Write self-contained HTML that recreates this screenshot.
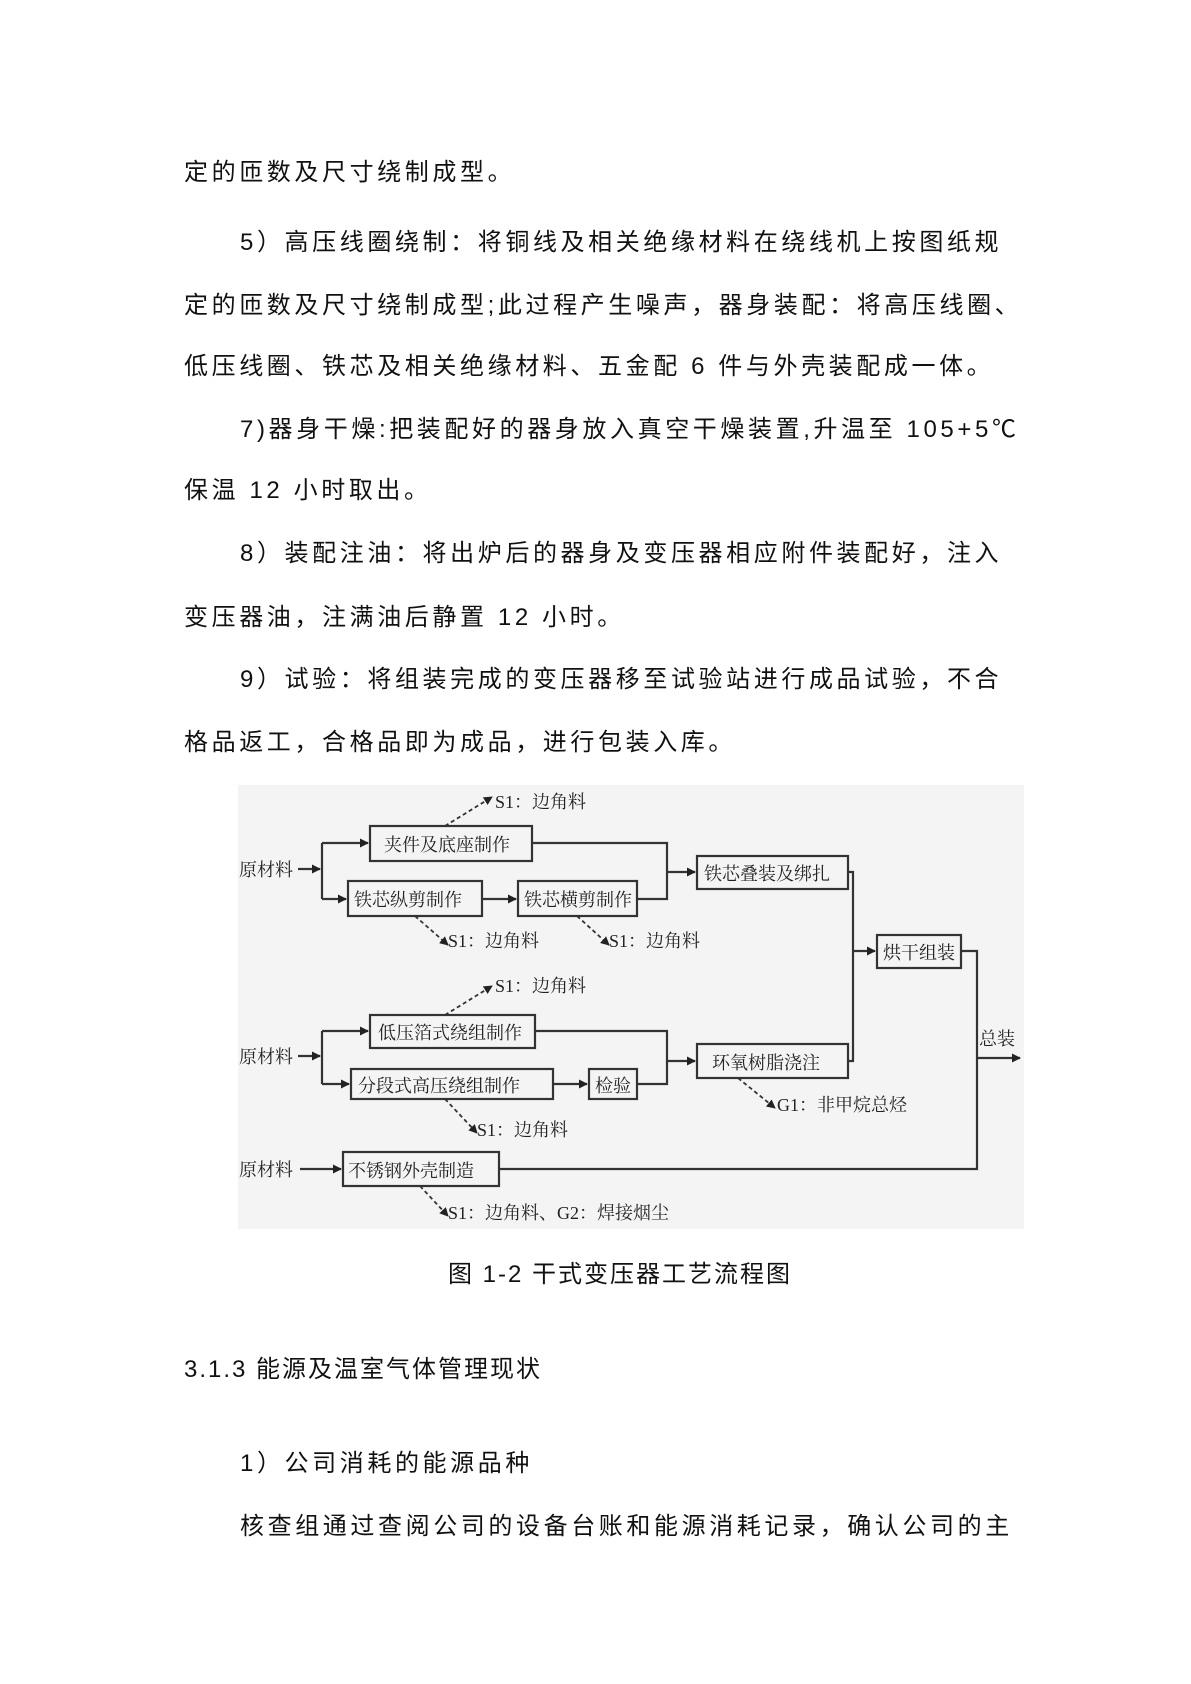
<!DOCTYPE html>
<html><head><meta charset="utf-8">
<style>
html,body{margin:0;padding:0;background:#fff;}
body{width:1191px;height:1684px;position:relative;overflow:hidden;font-family:"Liberation Sans","WenQuanYi Zen Hei","Noto Sans CJK SC",sans-serif;color:#111;}
.l{position:absolute;font-size:24px;letter-spacing:3.6px;white-space:nowrap;line-height:30px;}
</style></head><body>
<div class="l" style="left:184px;top:158px">定的匝数及尺寸绕制成型。</div>
<div class="l" style="left:240px;top:228px">5）高压线圈绕制：将铜线及相关绝缘材料在绕线机上按图纸规</div>
<div class="l" style="left:184px;top:291px">定的匝数及尺寸绕制成型;此过程产生噪声，器身装配：将高压线圈、</div>
<div class="l" style="left:184px;top:352px">低压线圈、铁芯及相关绝缘材料、五金配 6 件与外壳装配成一体。</div>
<div class="l" style="left:240px;top:415px">7)器身干燥:把装配好的器身放入真空干燥装置,升温至 105+5℃</div>
<div class="l" style="left:184px;top:476px">保温 12 小时取出。</div>
<div class="l" style="left:240px;top:539px">8）装配注油：将出炉后的器身及变压器相应附件装配好，注入</div>
<div class="l" style="left:184px;top:603px">变压器油，注满油后静置 12 小时。</div>
<div class="l" style="left:240px;top:665px">9）试验：将组装完成的变压器移至试验站进行成品试验，不合</div>
<div class="l" style="left:184px;top:728px">格品返工，合格品即为成品，进行包装入库。</div>

<svg style="position:absolute;left:0;top:0" width="1191" height="1684" font-family="Liberation Serif,'Noto Serif CJK SC',serif" font-size="18">
<defs><marker id="a" markerWidth="9" markerHeight="9" refX="8" refY="4.5" orient="auto" markerUnits="userSpaceOnUse"><path d="M0,0L9,4.5L0,9z" fill="#222"/></marker></defs>
<rect x="238" y="785" width="786" height="444" fill="#f4f4f4"/>
<g stroke="#333" stroke-width="2.2" fill="none">
<rect x="370" y="826" width="162" height="35"/>
<rect x="348" y="881" width="134" height="35"/>
<rect x="518" y="881" width="119" height="35"/>
<rect x="697" y="856" width="151" height="33"/>
<rect x="877" y="935" width="84" height="33"/>
<rect x="370" y="1015" width="165" height="33"/>
<rect x="351" y="1069" width="202" height="30"/>
<rect x="589" y="1069" width="48" height="30"/>
<rect x="697" y="1044" width="151" height="34"/>
<rect x="343" y="1152" width="156" height="34"/>
<path d="M298,869H320" marker-end="url(#a)"/>
<path d="M322,843V899"/>
<path d="M322,843H368" marker-end="url(#a)"/>
<path d="M322,899H346" marker-end="url(#a)"/>
<path d="M482,899H516" marker-end="url(#a)"/>
<path d="M532,843H667V899H637"/>
<path d="M667,872H695" marker-end="url(#a)"/>
<path d="M298,1056H320" marker-end="url(#a)"/>
<path d="M322,1031V1084"/>
<path d="M322,1031H368" marker-end="url(#a)"/>
<path d="M322,1084H349" marker-end="url(#a)"/>
<path d="M553,1084H587" marker-end="url(#a)"/>
<path d="M535,1031H667V1084H637"/>
<path d="M667,1061H695" marker-end="url(#a)"/>
<path d="M848,872H853V1061H848"/>
<path d="M853,951H875" marker-end="url(#a)"/>
<path d="M961,951H977V1169H499"/>
<path d="M977,1058H1020" marker-end="url(#a)"/>
<path d="M300,1169H341" marker-end="url(#a)"/>
</g>
<g stroke="#333" stroke-width="1.8" stroke-dasharray="4,3" fill="none">
<path d="M445,826L492,797" marker-end="url(#a)"/>
<path d="M415,916L448,945" marker-end="url(#a)"/>
<path d="M577,916L609,945" marker-end="url(#a)"/>
<path d="M445,1015L492,986" marker-end="url(#a)"/>
<path d="M445,1099L477,1133" marker-end="url(#a)"/>
<path d="M738,1078L775,1108" marker-end="url(#a)"/>
<path d="M420,1186L448,1216" marker-end="url(#a)"/>
</g>
<g fill="#222">
<text x="495" y="808">S1：边角料</text>
<text x="384" y="851">夹件及底座制作</text>
<text x="239" y="876">原材料</text>
<text x="354" y="906">铁芯纵剪制作</text>
<text x="524" y="906">铁芯横剪制作</text>
<text x="704" y="880">铁芯叠装及绑扎</text>
<text x="448" y="947">S1：边角料</text>
<text x="609" y="947">S1：边角料</text>
<text x="883" y="959">烘干组装</text>
<text x="495" y="992">S1：边角料</text>
<text x="378" y="1039">低压箔式绕组制作</text>
<text x="239" y="1063">原材料</text>
<text x="358" y="1092">分段式高压绕组制作</text>
<text x="595" y="1092">检验</text>
<text x="712" y="1069">环氧树脂浇注</text>
<text x="777" y="1111">G1：非甲烷总烃</text>
<text x="477" y="1136">S1：边角料</text>
<text x="979" y="1045">总装</text>
<text x="239" y="1176">原材料</text>
<text x="348" y="1177">不锈钢外壳制造</text>
<text x="448" y="1219">S1：边角料、G2：焊接烟尘</text>
</g>
</svg>

<div class="l" style="left:448px;top:1260px;letter-spacing:2px">图 1-2 干式变压器工艺流程图</div>
<div class="l" style="left:184px;top:1355px;letter-spacing:2px">3.1.3 能源及温室气体管理现状</div>
<div class="l" style="left:240px;top:1449px">1）公司消耗的能源品种</div>
<div class="l" style="left:240px;top:1512px">核查组通过查阅公司的设备台账和能源消耗记录，确认公司的主</div>
</body></html>
